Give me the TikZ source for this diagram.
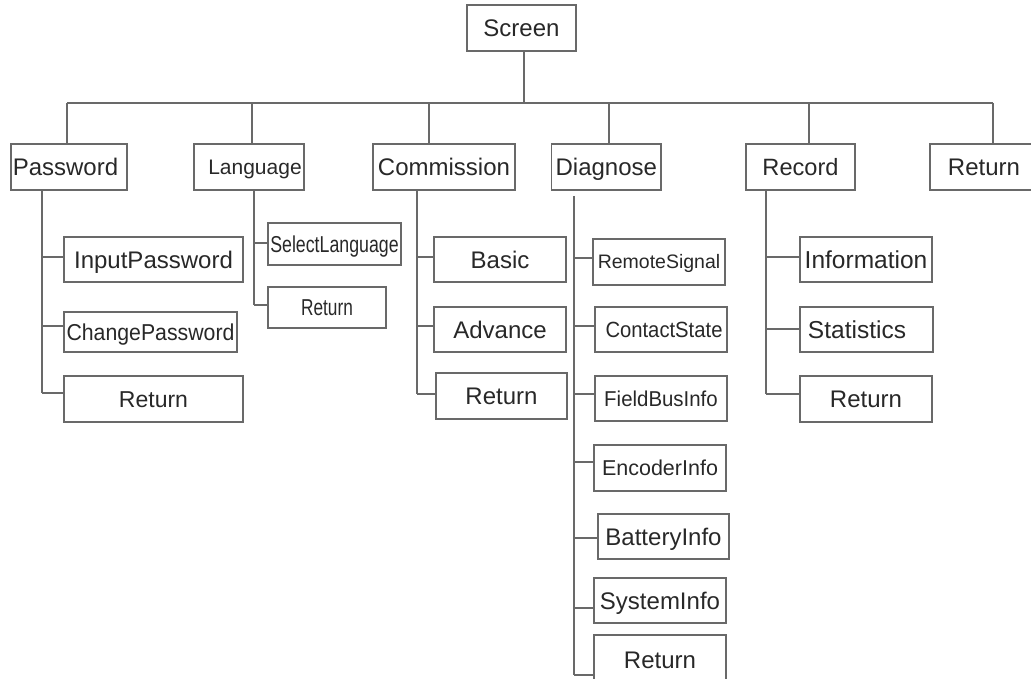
\documentclass[tikz,border=0pt]{standalone}
\usepackage{fontspec}
\usepackage{graphicx}
\setmainfont{Liberation Sans}
\definecolor{ln}{RGB}{105,105,105}
\definecolor{tx}{RGB}{40,40,40}
\tikzset{
  x=1pt, y=-1pt,
  bx/.style={draw=ln, line width=1.2pt, rectangle, inner sep=0pt, text=tx},
  fs/.style={font=\fontsize{#1}{#1}\selectfont, text height={0.716*#1 pt}, text depth=0pt},
  wd/.style={minimum width=#1 pt},
  ht/.style={minimum height=#1 pt},
  conn/.style={draw=ln, line width=1.2pt}
}
\begin{document}
\begin{tikzpicture}
\useasboundingbox (0,0) rectangle (1031,679);
\begin{scope}
\clip (0,0) rectangle (1031,679);
% root
\node[bx, fs=24, wd=109, ht=46] (scr) at (521.5,28) {Screen};
% level 1
\node[bx, fs=24, wd=116, ht=46] (pw) at (69,167) {Password\hspace*{7pt}};
\node[bx, fs=21, wd=110, ht=46] (lg) at (249,167) {\hspace*{12pt}Language};
\node[bx, fs=24, wd=142, ht=46] (cm) at (444,167) {Commission};
\node[bx, fs=24, wd=109.5, ht=46] (dg) at (606.3,167) {Diagnose};
\node[bx, fs=23.6, wd=109, ht=46] (rc) at (800.5,167) {Record};
\node[bx, fs=24, wd=108, ht=46] (rt0) at (984,167) {Return};
% bus
\coordinate (j0) at (524,103);
\coordinate (j1) at (67,103);
\coordinate (j2) at (252,103);
\coordinate (j3) at (429,103);
\coordinate (j4) at (609,103);
\coordinate (j5) at (809,103);
\coordinate (j6) at (993,103);
\draw[conn] (j0 |- scr.south) -- (j0);
\draw[conn] (j1) -- (j6);
\draw[conn] (j1) -- (j1 |- pw.north);
\draw[conn] (j2) -- (j2 |- lg.north);
\draw[conn] (j3) -- (j3 |- cm.north);
\draw[conn] (j4) -- (j4 |- dg.north);
\draw[conn] (j5) -- (j5 |- rc.north);
\draw[conn] (j6) -- (j6 |- rt0.north);
% Password children
\node[bx, fs=24, wd=179, ht=45] (ip) at (153.5,259.5) {InputPassword};
\node[bx, fs=23, wd=173, ht=40] (cp) at (150.5,332) {\scalebox{0.925}[1]{ChangePassword}};
\node[bx, fs=23, wd=179, ht=46] (pr) at (153.5,399) {Return};
\coordinate (p1) at (42,257);
\coordinate (p2) at (42,326);
\coordinate (p3) at (42,393);
\draw[conn] (p3 |- pw.south) -- (p3);
\draw[conn] (p1) -- (p1 -| ip.west);
\draw[conn] (p2) -- (p2 -| cp.west);
\draw[conn] (p3) -- (p3 -| pr.west);
% Language children
\node[bx, fs=23, wd=133, ht=42] (sl) at (334.5,244) {\scalebox{0.772}[1]{SelectLanguage}};
\node[bx, fs=23, wd=118, ht=41] (lr) at (327,307.5) {\scalebox{0.75}[1]{Return}};
\coordinate (l1) at (254,243);
\coordinate (l2) at (254,305);
\draw[conn] (l2 |- lg.south) -- (l2);
\draw[conn] (l1) -- (l1 -| sl.west);
\draw[conn] (l2) -- (l2 -| lr.west);
% Commission children
\node[bx, fs=24, wd=132, ht=45] (cb) at (500,259.5) {Basic};
\node[bx, fs=24, wd=132, ht=45] (ca) at (500,329.5) {Advance};
\node[bx, fs=24, wd=131, ht=46] (cr) at (501.5,396) {Return};
\coordinate (c1) at (417,257);
\coordinate (c2) at (417,326);
\coordinate (c3) at (417,394);
\draw[conn] (c3 |- cm.south) -- (c3);
\draw[conn] (c1) -- (c1 -| cb.west);
\draw[conn] (c2) -- (c2 -| ca.west);
\draw[conn] (c3) -- (c3 -| cr.west);
% Diagnose children
\node[bx, fs=19.5, wd=132, ht=46] (rs) at (659,262) {RemoteSignal};
\node[bx, fs=22, wd=132, ht=45] (cs) at (661,329.5) {\hspace*{6pt}\scalebox{0.92}[1]{ContactState}};
\node[bx, fs=21.5, wd=132, ht=45] (fb) at (661,398.5) {\scalebox{0.95}[1]{FieldBusInfo}};
\node[bx, fs=21.5, wd=132, ht=46] (ei) at (660,468) {EncoderInfo};
\node[bx, fs=24, wd=131, ht=45] (bi) at (663.5,536.5) {BatteryInfo};
\node[bx, fs=24, wd=132, ht=45] (si) at (660,600.5) {SystemInfo};
\node[bx, fs=24, wd=132, ht=50] (dr) at (660,660) {Return};
\coordinate (d0) at (574,196);
\coordinate (d1) at (574,258);
\coordinate (d2) at (574,326);
\coordinate (d3) at (574,394);
\coordinate (d4) at (574,462);
\coordinate (d5) at (574,538);
\coordinate (d6) at (574,608);
\coordinate (d7) at (574,675);
\draw[conn] (d0) -- (d7);
\draw[conn] (d1) -- (d1 -| rs.west);
\draw[conn] (d2) -- (d2 -| cs.west);
\draw[conn] (d3) -- (d3 -| fb.west);
\draw[conn] (d4) -- (d4 -| ei.west);
\draw[conn] (d5) -- (d5 -| bi.west);
\draw[conn] (d6) -- (d6 -| si.west);
\draw[conn] (d7) -- (d7 -| dr.west);
% Record children
\node[bx, fs=24.5, wd=132, ht=45] (ri) at (866,259.5) {Information};
\node[bx, fs=24.5, wd=133, ht=45] (rst) at (866.5,329.5) {Statistics\hspace*{19pt}};
\node[bx, fs=24, wd=132, ht=46] (rr) at (866,399) {Return};
\coordinate (r1) at (766,257);
\coordinate (r2) at (766,329);
\coordinate (r3) at (766,394);
\draw[conn] (r3 |- rc.south) -- (r3);
\draw[conn] (r1) -- (r1 -| ri.west);
\draw[conn] (r2) -- (r2 -| rst.west);
\draw[conn] (r3) -- (r3 -| rr.west);
\end{scope}
\end{tikzpicture}
\end{document}
